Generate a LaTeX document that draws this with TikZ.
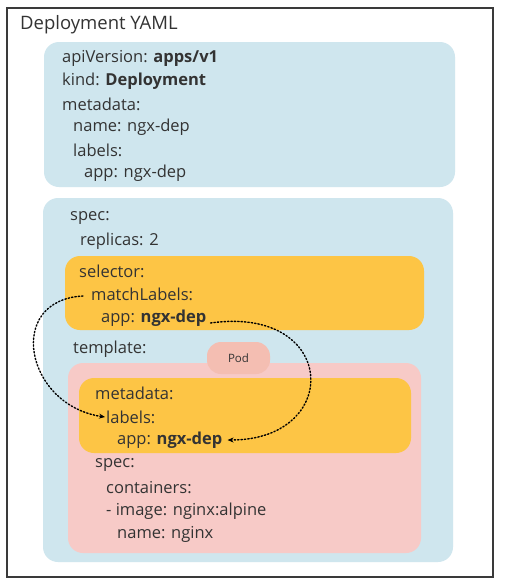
\documentclass[tikz,border=0pt]{standalone}
\usepackage{fontspec}
\setmainfont{Open Sans}
\usetikzlibrary{arrows.meta}
\definecolor{frame}{HTML}{3A3A3A}
\definecolor{txt}{HTML}{333333}
\definecolor{bluebox}{HTML}{CFE6EE}
\definecolor{orangebox}{HTML}{FDC545}
\definecolor{pinkbox}{HTML}{F7CAC7}
\definecolor{podfill}{HTML}{F4BEB2}
\tikzset{
  panel/.style={rounded corners=15pt},
  ln/.style={anchor=west, inner sep=0pt, text=txt, font=\fontsize{16.5}{19}\selectfont},
  link/.style={dotted, line width=1.4pt, -{Stealth[length=6pt,width=5pt]}, black, line cap=round},
}
\begin{document}
\begin{tikzpicture}[x=1pt,y=-1pt]
\useasboundingbox (0,0) rectangle (508,587);
\fill[white] (0,0) rectangle (508,587);
\draw[frame, line width=2pt] (7,8) rectangle (493,577);
\node[ln, font=\fontsize{18.5}{21}\selectfont] (title) at (20,25) {Deployment YAML};
% top box
\fill[bluebox, panel] (44,42) rectangle (455,187);
\node[ln] (api) at (62,58) {apiVersion: \textbf{apps/v1}};
\node[ln] (kind) at (62,81) {kind: \textbf{Deployment}};
\node[ln] (meta) at (62,104) {metadata:};
\node[ln] (name) at (73,127) {name: ngx-dep};
\node[ln] (labels) at (73,150) {labels:};
\node[ln] (app) at (84,173) {app: ngx-dep};
% spec box
\fill[bluebox, panel] (43,198) rectangle (453,562);
\node[ln] (spec) at (70,218) {spec:};
\node[ln] (rep) at (80,241) {replicas: 2};
\fill[orangebox, panel] (65,256) rectangle (424,330);
\node[ln] (sel) at (79,271) {selector:};
\node[ln] (ml) at (91,294) {matchLabels:};
\node[ln] (selapp) at (101,318) {app: \textbf{ngx-dep}};
\node[ln] (tmpl) at (73,349) {template:};
\fill[pinkbox, panel] (68,363) rectangle (421,553);
\node[fill=podfill, rounded corners=14pt, minimum width=63pt, minimum height=32pt, inner sep=0pt, text=txt, font=\fontsize{11.5}{13}\selectfont] (pod) at (238.5,358) {Pod};
\fill[orangebox, panel] (79,378) rectangle (411,453);
\node[ln] (pmeta) at (95,393) {metadata:};
\node[ln] (plabels) at (106,417) {labels:};
\node[ln] (papp) at (117,440) {app: \textbf{ngx-dep}};
\node[ln] (pspec) at (95,465) {spec:};
\node[ln] (cont) at (106,488) {containers:};
\node[ln] (img) at (106,511) {- image: nginx:alpine};
\node[ln] (pname) at (117,534) {name: nginx};
% links
\coordinate (s1) at ([xshift=-8pt,yshift=-2pt]ml.west);
\coordinate (s2) at ([xshift=4pt,yshift=-5pt]selapp.east);
\draw[link] (s1) .. controls (5,300) and (25,405) .. ([xshift=-1pt]plabels.west);
\draw[link] (s2) .. controls (338,305) and (343,440) .. ([xshift=5pt]papp.east);
\end{tikzpicture}
\end{document}
